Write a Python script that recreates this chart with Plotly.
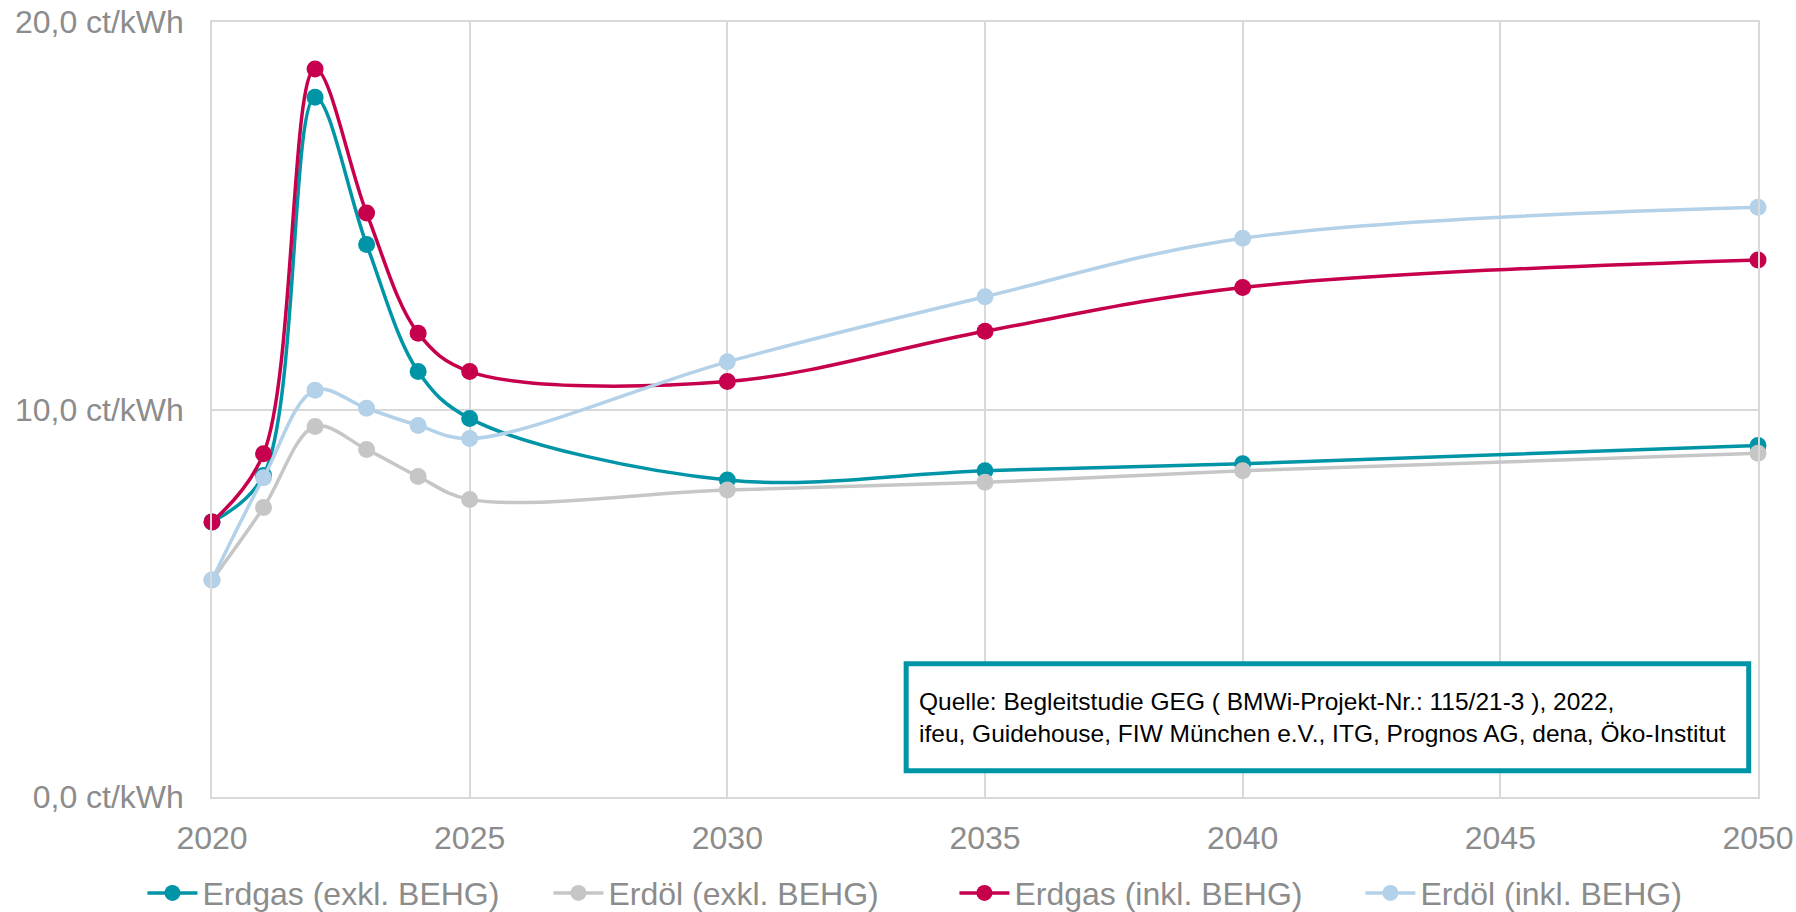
import plotly.graph_objects as go

years = [2020, 2021, 2022, 2023, 2024, 2025, 2030, 2035, 2040, 2050]

erdgas_exkl = [7.1, 8.3, 18.06, 14.26, 10.98, 9.77, 8.18, 8.42, 8.6, 9.07]
erdoel_exkl = [5.6, 7.47, 9.56, 8.97, 8.27, 7.68, 7.92, 8.12, 8.42, 8.87]
erdgas_inkl = [7.1, 8.86, 18.79, 15.07, 11.97, 10.98, 10.72, 12.02, 13.15, 13.86]
erdoel_inkl = [5.6, 8.24, 10.5, 10.03, 9.59, 9.25, 11.23, 12.91, 14.42, 15.22]

series_names = ["Erdgas (exkl. BEHG)", "Erdöl (exkl. BEHG)",
                "Erdgas (inkl. BEHG)", "Erdöl (inkl. BEHG)"]
series_values = [erdgas_exkl, erdoel_exkl, erdgas_inkl, erdoel_inkl]
series_colors = ["#0095A6", "#C6C6C6", "#C6004C", "#B3D1E8"]

y_tickvals = [0, 10, 20]
y_ticktext = ["0,0 ct/kWh", "10,0 ct/kWh", "20,0 ct/kWh"]
x_tickvals = [2020, 2025, 2030, 2035, 2040, 2045, 2050]

source_text = ("Quelle: Begleitstudie GEG ( BMWi-Projekt-Nr.: 115/21-3 ), 2022,<br>"
               "ifeu, Guidehouse, FIW München e.V., ITG, Prognos AG, dena, Öko-Institut")

FONT = "Liberation Sans, Arial, sans-serif"
GRAY_TXT = "#8C8C8C"
GRID = "#D9D9D9"

fig = go.Figure()
for name, vals, col in zip(series_names, series_values, series_colors):
    fig.add_trace(go.Scatter(
        x=years, y=vals, name=name, mode="lines+markers",
        line=dict(color=col, width=3.5, shape="spline", smoothing=1.0),
        marker=dict(color=col, size=17),
        cliponaxis=False,
    ))

fig.update_layout(
    width=1796, height=912,
    paper_bgcolor="white", plot_bgcolor="white",
    margin=dict(l=212, r=38, t=22, b=115, autoexpand=False),
    font=dict(family=FONT, size=32, color=GRAY_TXT),
    showlegend=True,
    hovermode=False,
    legend=dict(orientation="h", x=-0.045, xref="paper", xanchor="left",
                y=-0.124, yanchor="middle",
                font=dict(family=FONT, size=32, color=GRAY_TXT),
                entrywidth=341, entrywidthmode="pixels",
                itemwidth=50, tracegroupgap=0),
    xaxis=dict(range=[2020, 2050], tickvals=x_tickvals, showgrid=True,
               gridcolor=GRID, gridwidth=1.5, zeroline=False,
               showline=True, linecolor=GRID, linewidth=1.5, mirror=True,
               ticks="", ticklabelstandoff=12, automargin=False,
               ticklabeloverflow="allow",
               tickfont=dict(family=FONT, size=32, color=GRAY_TXT)),
    yaxis=dict(range=[0, 20], tickvals=y_tickvals, ticktext=y_ticktext,
               showgrid=True, gridcolor=GRID, gridwidth=1.5, zeroline=False,
               showline=True, linecolor=GRID, linewidth=1.5, mirror=True,
               ticks="", ticklabelstandoff=20, automargin=False,
               ticklabeloverflow="allow",
               tickfont=dict(family=FONT, size=32, color=GRAY_TXT)),
)

fig.add_shape(type="rect", xref="paper", yref="paper",
              x0=0.449, x1=0.994, y0=0.034, y1=0.172,
              line=dict(color="#0095A6", width=5), fillcolor="white",
              layer="above")
fig.add_annotation(xref="paper", yref="paper", x=0.456, y=0.103,
                   xanchor="left", yanchor="middle", align="left",
                   text=source_text, showarrow=False,
                   font=dict(family=FONT, size=24.5, color="#000000"))

fig.write_html(
    "out.html",
    config={"displayModeBar": False},
    post_script="document.documentElement.style.margin='0';"
                "document.documentElement.style.overflow='hidden';"
                "document.body.style.margin='0';"
                "document.body.style.overflow='hidden';",
)
